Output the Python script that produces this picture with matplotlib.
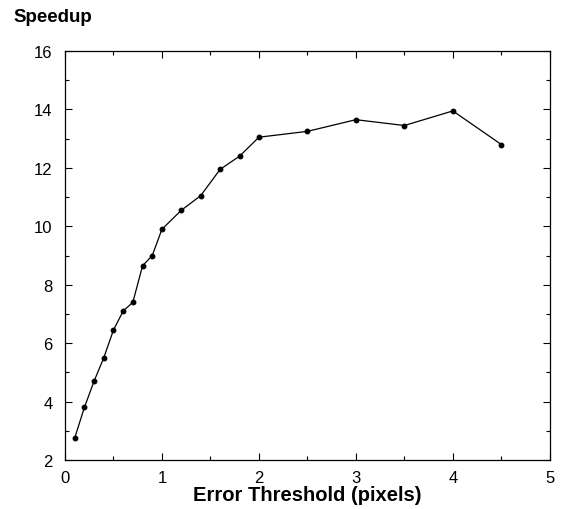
import matplotlib
matplotlib.use('Agg')
import matplotlib.pyplot as plt
from matplotlib.ticker import MultipleLocator

plt.rcParams['font.family'] = ['Liberation Sans', 'DejaVu Sans']

# error threshold (pixels) and measured speedup
threshold = [0.1, 0.2, 0.3, 0.4, 0.5, 0.6, 0.7, 0.8, 0.9, 1.0,
             1.2, 1.4, 1.6, 1.8, 2.0, 2.5, 3.0, 3.5, 4.0, 4.5]
speedup = [2.75, 3.8, 4.7, 5.5, 6.45, 7.1, 7.4, 8.65, 9.0, 9.9,
           10.55, 11.05, 11.95, 12.4, 13.05, 13.25, 13.65, 13.45, 13.95, 12.8]

fig = plt.figure(figsize=(5.68, 5.10), dpi=100)
ax = fig.add_axes([0.1144, 0.096, 0.8536, 0.802])

ax.plot(threshold, speedup, color='black', linewidth=0.9,
        marker='o', markersize=3.2)

ax.set_xlim(0, 5)
ax.set_ylim(2, 16)
ax.xaxis.set_major_locator(MultipleLocator(1))
ax.xaxis.set_minor_locator(MultipleLocator(0.5))
ax.yaxis.set_major_locator(MultipleLocator(2))
ax.yaxis.set_minor_locator(MultipleLocator(1))
ax.tick_params(which='both', direction='in', top=True, right=True,
               labelsize=12, width=0.8)
ax.tick_params(which='major', length=5)
ax.tick_params(which='minor', length=3)
ax.tick_params(axis='y', which='major', pad=9)
ax.tick_params(axis='x', which='major', pad=7)
for s in ax.spines.values():
    s.set_linewidth(0.9)

ax.set_xlabel('Error Threshold (pixels)', fontsize=14.5, fontweight='bold', labelpad=0)
fig.text(0.023, 0.957, 'Speedup', fontsize=13.5, fontweight='bold',
         ha='left', va='baseline')

fig.savefig('out.png', dpi=100)
